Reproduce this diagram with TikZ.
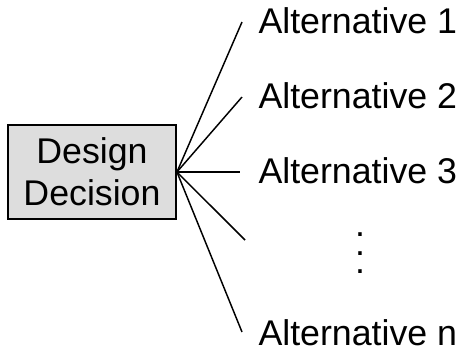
\documentclass[tikz,border=0pt]{standalone}
\usepackage{fontspec}
\setmainfont{Liberation Sans}

\tikzset{every picture/.style={line width=0.75pt}}

\begin{document}
\begin{tikzpicture}[x=0.75pt,y=0.75pt,yscale=-1,xscale=1,
	decbox/.style={draw, line width=1.4pt, fill={rgb, 255:red, 221; green, 221; blue, 221 }, minimum width=126pt, minimum height=70.5pt, inner sep=0pt, align=center, font=\fontsize{26.8}{31.5}\selectfont},
	alttext/.style={anchor=base west, inner sep=0pt, font=\fontsize{26.8}{31.5}\selectfont},
	dot/.style={inner sep=0pt, font=\fontsize{26.8}{31.5}\selectfont},
	branch/.style={line width=1.1pt}]
	\useasboundingbox (0,0) rectangle (467,354); %set diagram area

	%Shape: Rectangle
	\node [decbox] (dd) at (92,172) {Design\\Decision};

	% Text Node
	\node [alttext] (alt1) at (258,33) {Alternative 1};
	% Text Node
	\node [alttext] (alt2) at (258,108) {Alternative 2};
	% Text Node
	\node [alttext] (alt3) at (258,183) {Alternative 3};
	% Text Node
	\node [alttext] (altn) at (258,345) {Alternative n};
	% Text Node
	\node [dot] (dot1) at (360,235) {.};
	\node [dot] (dot2) at (360,253.5) {.};
	\node [dot] (dot3) at (360,272) {.};

	%Line ends
	\coordinate (e1) at (242,22);
	\coordinate (e2) at (242,97);
	\coordinate (e3) at (240,172);
	\coordinate (e4) at (245,240);
	\coordinate (en) at (242,332);

	%Straight Lines
	\draw [branch] (dd.east) -- (e1);
	\draw [branch] (dd.east) -- (e2);
	\draw [branch] (dd.east) -- (e3);
	\draw [branch] (dd.east) -- (e4);
	\draw [branch] (dd.east) -- (en);

\end{tikzpicture}
\end{document}
